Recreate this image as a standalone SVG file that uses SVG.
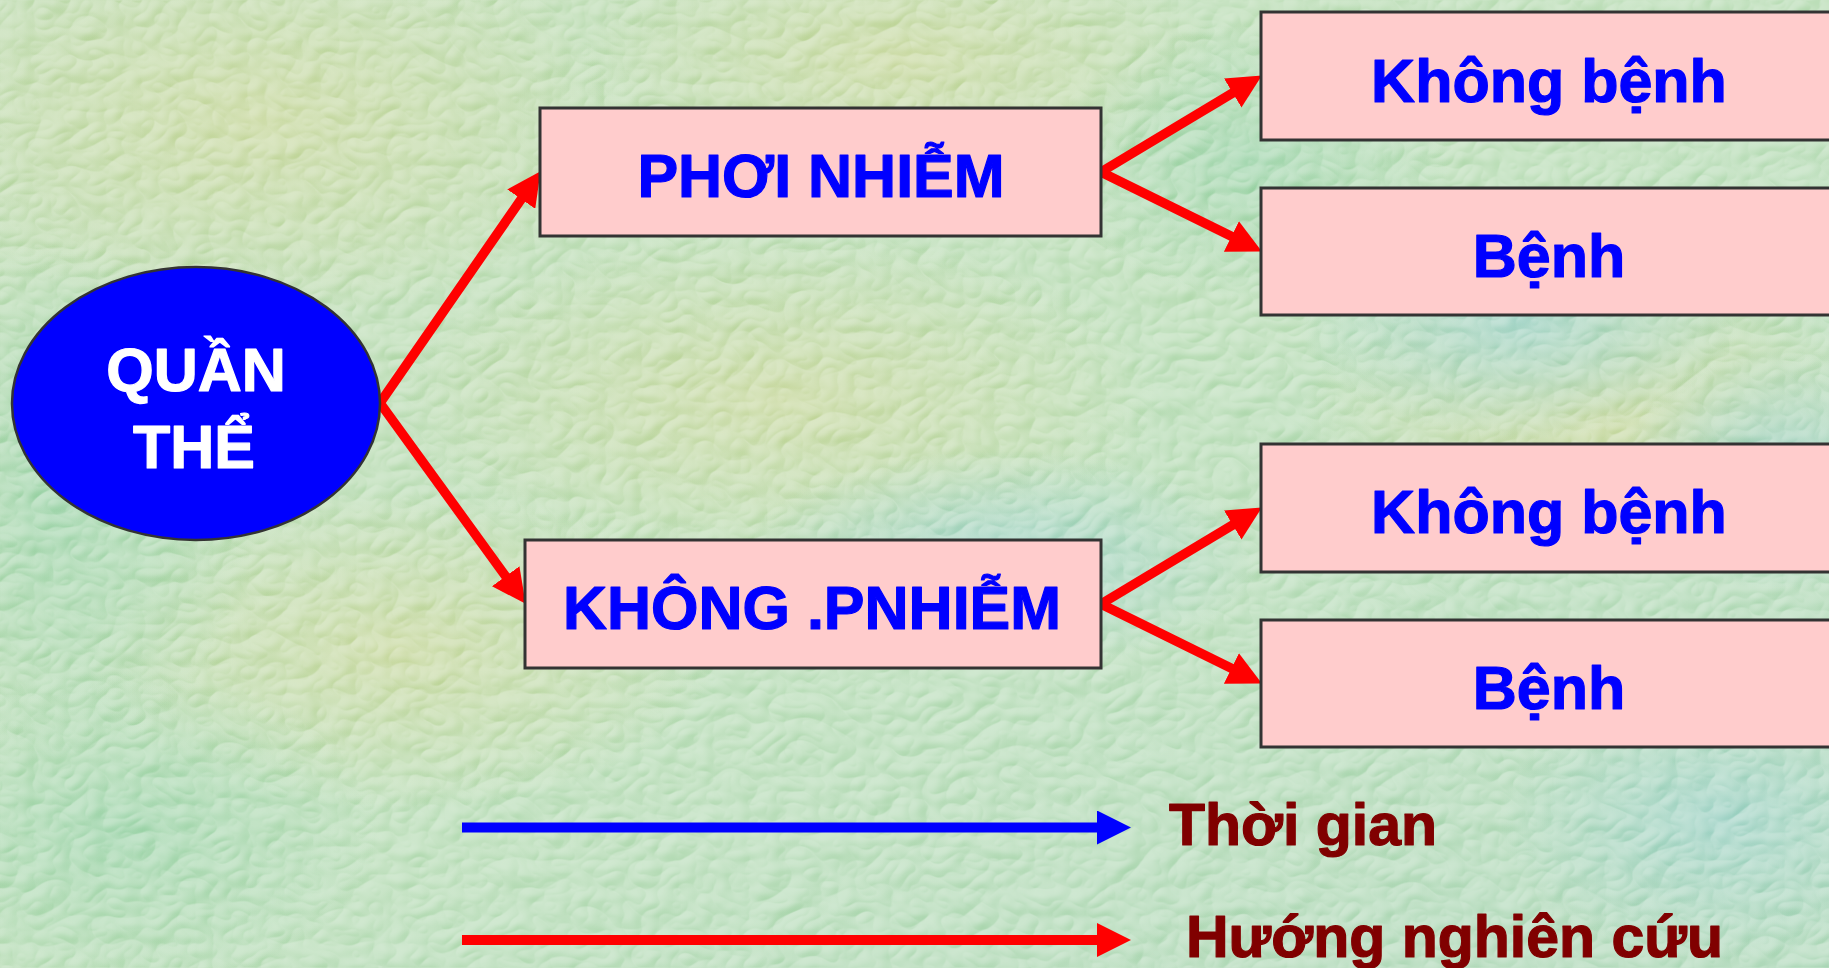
<svg xmlns="http://www.w3.org/2000/svg" width="1829" height="968" viewBox="0 0 1829 968">
  <style>
    .box { fill: #ffcccc; stroke: #333333; stroke-width: 3; }
    .lbl { font-family: "Liberation Sans", Arial, sans-serif; font-weight: bold; font-size: 61px; fill: #0000ff; stroke: #0000ff; stroke-width: 1.2; stroke-linejoin: round; text-anchor: middle; }
    .white { fill: #ffffff; stroke: #ffffff; }
    .legend { font-family: "Liberation Sans", Arial, sans-serif; font-weight: bold; font-size: 59px; fill: #800000; stroke: #800000; stroke-width: 1.2; stroke-linejoin: round; }
    .flow { fill: none; stroke: #ff0000; stroke-width: 9.5; stroke-linejoin: miter; marker-start: url(#head); marker-end: url(#head); }
  </style>
  <defs>
    <marker id="head" viewBox="0 0 34 34" refX="5" refY="17" markerWidth="34" markerHeight="34" markerUnits="userSpaceOnUse" orient="auto-start-reverse">
      <path d="M0,0 L34,17 L0,34 Z" fill="#ff0000"/>
    </marker>
    <marker id="headBlue" viewBox="0 0 34 34" refX="2" refY="17" markerWidth="34" markerHeight="34" markerUnits="userSpaceOnUse" orient="auto">
      <path d="M0,0 L34,17 L0,34 Z" fill="#0000ff"/>
    </marker>
    <marker id="headRed" viewBox="0 0 34 34" refX="2" refY="17" markerWidth="34" markerHeight="34" markerUnits="userSpaceOnUse" orient="auto">
      <path d="M0,0 L34,17 L0,34 Z" fill="#ff0000"/>
    </marker>
    <linearGradient id="bgBase" x1="0" y1="0" x2="1" y2="1">
      <stop offset="0" stop-color="#c2deb6"/>
      <stop offset="0.5" stop-color="#bfe0bc"/>
      <stop offset="1" stop-color="#b6dcc0"/>
    </linearGradient>
    <radialGradient id="warm" cx="0.5" cy="0.5" r="0.5">
      <stop offset="0" stop-color="#cfdca6" stop-opacity="0.9"/>
      <stop offset="1" stop-color="#cfdca6" stop-opacity="0"/>
    </radialGradient>
    <radialGradient id="teal" cx="0.5" cy="0.5" r="0.5">
      <stop offset="0" stop-color="#a6d6cc" stop-opacity="0.9"/>
      <stop offset="1" stop-color="#a6d6cc" stop-opacity="0"/>
    </radialGradient>
    <radialGradient id="green" cx="0.5" cy="0.5" r="0.5">
      <stop offset="0" stop-color="#a4d8b2" stop-opacity="0.85"/>
      <stop offset="1" stop-color="#a4d8b2" stop-opacity="0"/>
    </radialGradient>
    <filter id="stone" x="0" y="0" width="100%" height="100%" color-interpolation-filters="sRGB">
      <feTurbulence type="turbulence" baseFrequency="0.028 0.036" numOctaves="2" seed="11" result="noise"/>
      <feDiffuseLighting in="noise" surfaceScale="5" lighting-color="#ffffff" result="lit">
        <feDistantLight azimuth="235" elevation="48"/>
      </feDiffuseLighting>
    </filter>
  </defs>

  <!-- textured backdrop -->
  <g id="background">
    <rect x="0" y="0" width="1829" height="968" fill="url(#bgBase)"/>
    <ellipse cx="260" cy="120" rx="360" ry="200" fill="url(#warm)"/>
    <ellipse cx="900" cy="60" rx="320" ry="150" fill="url(#warm)"/>
    <ellipse cx="780" cy="400" rx="380" ry="170" fill="url(#warm)"/>
    <ellipse cx="1600" cy="420" rx="300" ry="160" fill="url(#warm)"/>
    <ellipse cx="400" cy="650" rx="320" ry="160" fill="url(#warm)"/>
    <ellipse cx="1520" cy="320" rx="220" ry="120" fill="url(#teal)"/>
    <ellipse cx="1780" cy="470" rx="160" ry="120" fill="url(#teal)"/>
    <ellipse cx="1720" cy="820" rx="220" ry="140" fill="url(#teal)"/>
    <ellipse cx="1000" cy="560" rx="260" ry="110" fill="url(#teal)"/>
    <ellipse cx="60" cy="500" rx="200" ry="260" fill="url(#green)"/>
    <ellipse cx="120" cy="830" rx="260" ry="160" fill="url(#green)"/>
    <ellipse cx="1250" cy="160" rx="200" ry="140" fill="url(#green)"/>
    <rect x="0" y="0" width="1829" height="968" filter="url(#stone)" opacity="0.3" style="mix-blend-mode: overlay"/>
  </g>

  <!-- connectors -->
  <g id="connectors">
    <path class="flow" d="M524.1,195 L380,403 L508.6,580.3"/>
    <path class="flow" d="M1237,90.4 L1101,172 L1235.9,238.6"/>
    <path class="flow" d="M1237,522.4 L1101,604 L1235.9,670.6"/>
  </g>

  <!-- population -->
  <g id="node-quan-the">
    <ellipse cx="196" cy="403.5" rx="184" ry="136.5" fill="#0000ff" stroke="#333333" stroke-width="2.5"/>
    <text class="lbl white" x="196" y="391">QUẦN</text>
    <text class="lbl white" x="194" y="468">THỂ</text>
  </g>

  <g id="node-phoi-nhiem">
    <rect class="box" x="540" y="108" width="561" height="128"/>
    <text class="lbl" x="821" y="197">PHƠI NHIỄM</text>
  </g>

  <g id="node-khong-phoi-nhiem">
    <rect class="box" x="525" y="540" width="576" height="128"/>
    <text class="lbl" x="812" y="629">KHÔNG .PNHIỄM</text>
  </g>

  <g id="node-khong-benh-1">
    <rect class="box" x="1261" y="12" width="600" height="128"/>
    <text class="lbl" x="1549" y="102">Không bệnh</text>
  </g>

  <g id="node-benh-1">
    <rect class="box" x="1261" y="188" width="600" height="127"/>
    <text class="lbl" x="1549" y="277">Bệnh</text>
  </g>

  <g id="node-khong-benh-2">
    <rect class="box" x="1261" y="444" width="600" height="128"/>
    <text class="lbl" x="1549" y="533">Không bệnh</text>
  </g>

  <g id="node-benh-2">
    <rect class="box" x="1261" y="620" width="600" height="127"/>
    <text class="lbl" x="1549" y="709">Bệnh</text>
  </g>

  <!-- legend -->
  <g id="legend">
    <line x1="462" y1="827.5" x2="1099" y2="827.5" stroke="#0000ff" stroke-width="10" marker-end="url(#headBlue)"/>
    <text class="legend" x="1169" y="845">Thời gian</text>
    <line x1="462" y1="940" x2="1099" y2="940" stroke="#ff0000" stroke-width="10" marker-end="url(#headRed)"/>
    <text class="legend" x="1186" y="957">Hướng nghiên cứu</text>
  </g>
</svg>
